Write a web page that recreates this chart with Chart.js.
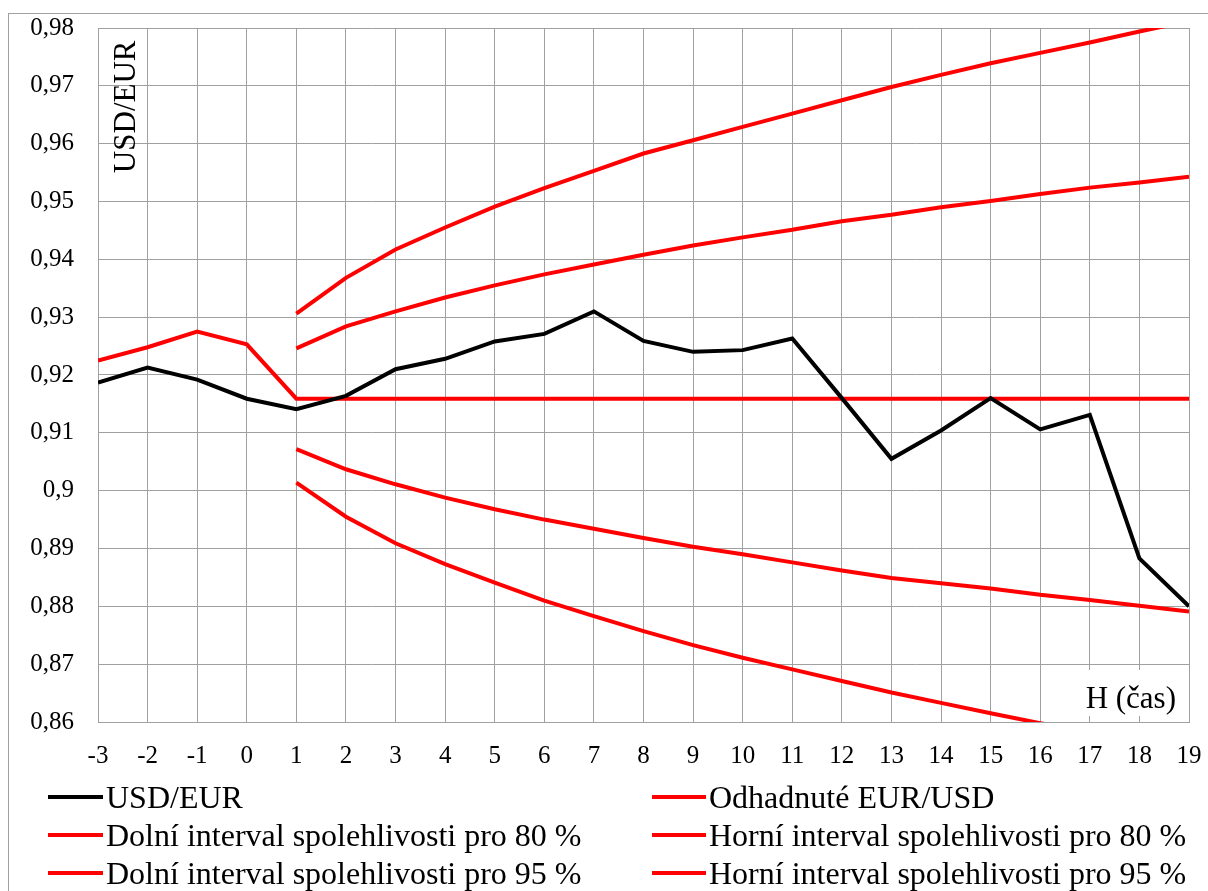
<!DOCTYPE html>
<html>
<head>
<meta charset="utf-8">
<script src="https://cdn.jsdelivr.net/npm/chart.js@4/dist/chart.umd.min.js"></script>
<style>
  html, body { margin: 0; padding: 0; background: #fff; }
  canvas { display: block; }
</style>
</head>
<body>
<canvas id="c" width="1208" height="891"></canvas>
<script>
// ---- Data ----
const categories = ['-3','-2','-1','0','1','2','3','4','5','6','7','8','9','10','11','12','13','14','15','16','17','18','19'];

const usdEur = [0.9187, 0.9213, 0.9192, 0.9159, 0.9141, 0.9164, 0.9210, 0.9228, 0.9258, 0.9271, 0.9310, 0.9259,
                0.9240, 0.9243, 0.9263, 0.9160, 0.9055, 0.9104, 0.9160, 0.9106, 0.9131, 0.8883, 0.8800];

const odhadnute = [0.9225, 0.9248, 0.9275, 0.9253, 0.9159, 0.9159, 0.9159, 0.9159, 0.9159, 0.9159, 0.9159, 0.9159,
                   0.9159, 0.9159, 0.9159, 0.9159, 0.9159, 0.9159, 0.9159, 0.9159, 0.9159, 0.9159, 0.9159];

const dolni80 = [null, null, null, null, 0.9072, 0.9037, 0.9011, 0.8988, 0.8968, 0.8950, 0.8934, 0.8918,
                 0.8903, 0.8890, 0.8876, 0.8862, 0.8849, 0.8840, 0.8831, 0.8820, 0.8811, 0.8801, 0.8791];

const horni80 = [null, null, null, null, 0.9246, 0.9284, 0.9310, 0.9334, 0.9355, 0.9374, 0.9391, 0.9408,
                 0.9424, 0.9438, 0.9451, 0.9466, 0.9477, 0.9490, 0.9501, 0.9513, 0.9524, 0.9533, 0.9543];

const dolni95 = [null, null, null, null, 0.9014, 0.8955, 0.8909, 0.8873, 0.8841, 0.8810, 0.8783, 0.8757,
                 0.8733, 0.8711, 0.8691, 0.8671, 0.8651, 0.8633, 0.8615, 0.8598, 0.8582, 0.8567, 0.8552];

const horni95 = [null, null, null, null, 0.9306, 0.9368, 0.9417, 0.9455, 0.9491, 0.9523, 0.9553, 0.9583,
                 0.9606, 0.9629, 0.9652, 0.9675, 0.9698, 0.9719, 0.9739, 0.9757, 0.9775, 0.9794, 0.9812];

const seriesLabels = ['USD/EUR', 'Odhadnuté EUR/USD', 'Dolní interval spolehlivosti pro 80 %',
                      'Horní interval spolehlivosti pro 80 %', 'Dolní interval spolehlivosti pro 95 %',
                      'Horní interval spolehlivosti pro 95 %'];
const yAxisTitle = 'USD/EUR';
const xAxisTitle = 'H (čas)';
const yMin = 0.86, yMax = 0.98, yStep = 0.01;

// ---- Styling ----
const FONT = 'Liberation Serif';
const GRID = '#a0a0a0';
const RED = '#ff0000';
Chart.defaults.font.family = FONT;

const seriesData = [usdEur, odhadnute, dolni80, horni80, dolni95, horni95];
const seriesColors = ['#000000', RED, RED, RED, RED, RED];

const datasets = seriesData.map((d, i) => ({
  label: seriesLabels[i],
  data: d,
  borderColor: seriesColors[i],
  backgroundColor: seriesColors[i],
  borderWidth: 4,
  pointRadius: 0,
  tension: 0,
  fill: false,
  spanGaps: false,
  clip: 0
}));

const decor = {
  id: 'decor',
  beforeDraw(chart) {
    const ctx = chart.ctx;
    ctx.save();
    ctx.strokeStyle = GRID;
    ctx.lineWidth = 1;
    ctx.strokeRect(8.5, 13.5, 1400, 1000);
    ctx.restore();
  },
  beforeDatasetsDraw(chart) {
    const ctx = chart.ctx, a = chart.chartArea;
    ctx.save();
    ctx.fillStyle = '#ffffff';
    ctx.fillRect(a.left + 946, a.bottom - 52, 142, 46);
    ctx.fillStyle = '#000';
    ctx.font = '31px "' + FONT + '"';
    ctx.textAlign = 'right';
    ctx.textBaseline = 'alphabetic';
    ctx.fillText(xAxisTitle, a.right - 13, a.bottom - 14.5);
    ctx.restore();
  },
  afterDatasetsDraw(chart) {
    const ctx = chart.ctx, a = chart.chartArea;
    ctx.save();
    ctx.fillStyle = '#000';
    ctx.font = '31px "' + FONT + '"';
    ctx.translate(a.left + 37, a.top + 12.5);
    ctx.rotate(-Math.PI / 2);
    ctx.textAlign = 'right';
    ctx.textBaseline = 'alphabetic';
    ctx.fillText(yAxisTitle, 0, 0);
    ctx.restore();
  },
  afterDraw(chart) {
    const ctx = chart.ctx;
    const colLine = [[48, 103], [652, 706]];
    const colText = [106, 709];
    const rowY = [797, 835, 873];
    ctx.save();
    ctx.font = '32px "' + FONT + '"';
    ctx.textAlign = 'left';
    ctx.textBaseline = 'alphabetic';
    chart.data.datasets.forEach((ds, i) => {
      const col = i % 2, row = Math.floor(i / 2);
      const y = rowY[row];
      ctx.strokeStyle = ds.borderColor;
      ctx.lineWidth = 4;
      ctx.beginPath();
      ctx.moveTo(colLine[col][0], y);
      ctx.lineTo(colLine[col][1], y);
      ctx.stroke();
      ctx.fillStyle = '#000';
      ctx.fillText(ds.label, colText[col], y + 10.5);
    });
    ctx.restore();
  }
};

new Chart(document.getElementById('c'), {
  type: 'line',
  data: { labels: categories, datasets },
  options: {
    responsive: false,
    animation: false,
    devicePixelRatio: 1,
    layout: { padding: { left: 0, top: 28, right: 19, bottom: 119 } },
    plugins: { legend: { display: false }, tooltip: { enabled: false } },
    scales: {
      x: {
        type: 'category',
        offset: false,
        grid: { color: GRID, lineWidth: 1, drawTicks: false },
        border: { color: GRID, width: 1 },
        ticks: { font: { family: FONT, size: 25 }, color: '#000', padding: 19, maxRotation: 0, autoSkip: false },
        afterFit(s) { s.height = 50; s.paddingLeft = 0; s.paddingRight = 0; }
      },
      y: {
        min: yMin, max: yMax,
        grid: { color: GRID, lineWidth: 1, drawTicks: false },
        border: { color: GRID, width: 1 },
        ticks: {
          stepSize: yStep,
          font: { family: FONT, size: 25 },
          color: '#000',
          padding: 24,
          callback: v => (Math.round(v * 100) / 100).toString().replace('.', ',')
        },
        afterFit(s) { s.width = 98; s.paddingTop = 0; s.paddingBottom = 0; }
      }
    }
  },
  plugins: [decor]
});
</script>
</body>
</html>
